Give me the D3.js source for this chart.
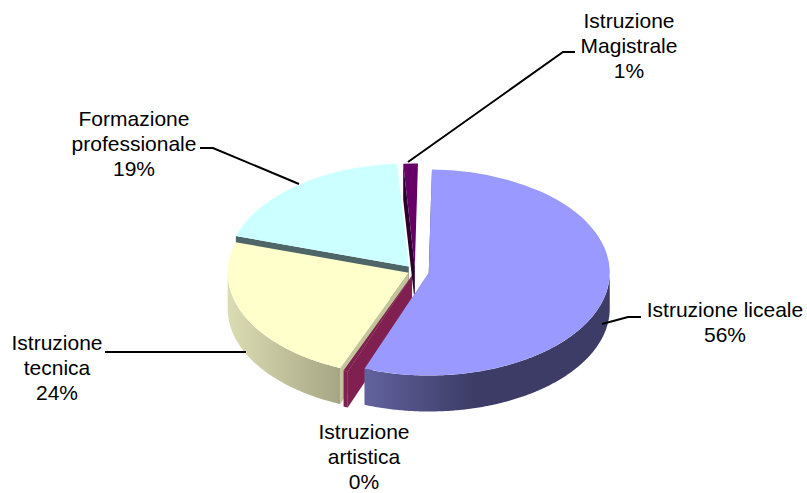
<!DOCTYPE html>
<html>
<head>
<meta charset="utf-8">
<script src="https://cdn.jsdelivr.net/npm/d3@7"></script>
<style>
    html, body { margin: 0; padding: 0; background: #fff; }
    text { font-family: "Liberation Sans", Arial, sans-serif; font-size: 21px; fill: #000; text-anchor: middle; }
</style>
</head>
<body>
<div id="chart"></div>
<script>
// Chart data
var categories = ["Istruzione liceale", "Istruzione artistica", "Istruzione tecnica", "Formazione professionale", "Istruzione Magistrale"];
var values = [55.5, 0.4, 23.6, 19.2, 1.3];

// Slice styles, same order as the categories
var topColors = ["#9999ff", "#7f2050", "#ffffcc", "#ccffff", "#660066"];
var wallFrom = ["#62629f", "#7f2050", "#dcdcb4", "#4f6668", "#2c002c"];
var wallTo = ["#3c3c66", "#7f2050", "#a6a684", "#4f6668", "#2c002c"];
var cutColors = ["#3c3c66", "#7f2050", "#c4c49a", "#4f6668", "#2c002c"];
var explode = [14, 8, 7, 10, 8];

// Drawn from the back of the pie to the front
var drawOrder = [4, 3, 2, 1, 0];

// Label lines and leader lines
var labelLines = [
    ["Istruzione liceale", "56%"],
    ["Istruzione", "artistica", "0%"],
    ["Istruzione", "tecnica", "24%"],
    ["Formazione", "professionale", "19%"],
    ["Istruzione", "Magistrale", "1%"]
];
var labelAnchors = [[725, 317], [364, 439], [57, 350], [134, 126], [629, 28]];
var leaders = [
    [[602, 324], [628, 317], [641, 317]],
    [],
    [[105, 352], [246, 352]],
    [[200, 148], [213, 148], [299, 184]],
    [[408, 162], [563, 52], [575, 52]]
];

var svgWidth = 807;
var svgHeight = 493;
var cx = 415;
var cy = 271;
var rx = 181;
var ry = 103;
var depth = 36;
var squash = ry / rx;

var svg = d3.select("#chart").append("svg")
    .attr("width", svgWidth)
    .attr("height", svgHeight)
    .style("display", "block");

var defs = svg.append("defs");

// Angles from the pie layout, turned one degree clockwise
var pie = d3.pie().sort(null).value(d => d)
    .startAngle(Math.PI / 180)
    .endAngle(2 * Math.PI + Math.PI / 180);
var slices = pie(values);

var arc = d3.arc().innerRadius(0).outerRadius(rx);

// Screen position of a point on the ellipse of a slice
function rim(apex, angle, drop) {
    return [apex[0] + rx * Math.sin(angle), apex[1] - ry * Math.cos(angle) + drop];
}

// Slice apex after moving it out along its middle angle
function apexOf(d, i) {
    var mid = (d.startAngle + d.endAngle) / 2;
    return [cx + explode[i] * Math.sin(mid), cy - explode[i] * Math.cos(mid) * squash];
}

var line = d3.line();

drawOrder.forEach(function(i) {
    var d = slices[i];
    var apex = apexOf(d, i);
    var g = svg.append("g");

    // Cut face at the start of the slice
    g.append("path")
        .attr("d", line([apex, rim(apex, d.startAngle, 0), rim(apex, d.startAngle, depth), [apex[0], apex[1] + depth]]) + "Z")
        .attr("fill", cutColors[i]);

    // Outer wall, only the part on the front half of the ellipse
    var from = Math.max(d.startAngle, Math.PI / 2);
    var to = Math.min(d.endAngle, 3 * Math.PI / 2);
    if (to > from) {
        var steps = d3.range(from, to, 0.01).concat([to]);
        var pts = steps.map(a => rim(apex, a, 0))
            .concat(steps.slice().reverse().map(a => rim(apex, a, depth)));
        var xs = d3.extent(pts, p => p[0]);
        var grad = defs.append("linearGradient")
            .attr("id", "wall" + i)
            .attr("gradientUnits", "userSpaceOnUse")
            .attr("x1", xs[0])
            .attr("x2", i === 0 ? xs[0] + 110 : xs[1])
            .attr("y1", 0)
            .attr("y2", 0);
        grad.append("stop").attr("offset", 0).attr("stop-color", wallFrom[i]);
        grad.append("stop").attr("offset", 1).attr("stop-color", wallTo[i]);
        g.append("path")
            .attr("d", line(pts) + "Z")
            .attr("fill", "url(#wall" + i + ")");
    }

    // Top face
    g.append("path")
        .attr("d", arc(d))
        .attr("transform", `translate(${apex[0]}, ${apex[1]}) scale(1, ${squash})`)
        .attr("fill", topColors[i]);
});

// Leader lines
leaders.forEach(function(pts) {
    if (!pts.length) return;
    svg.append("path")
        .attr("d", line(pts))
        .attr("fill", "none")
        .attr("stroke", "#000")
        .attr("stroke-width", 2);
});

// Labels
labelLines.forEach(function(lines, i) {
    var t = svg.append("text")
        .attr("x", labelAnchors[i][0])
        .attr("y", labelAnchors[i][1]);
    lines.forEach(function(s, j) {
        t.append("tspan")
            .attr("x", labelAnchors[i][0])
            .attr("dy", j === 0 ? 0 : 25)
            .text(s);
    });
});
</script>
</body>
</html>
